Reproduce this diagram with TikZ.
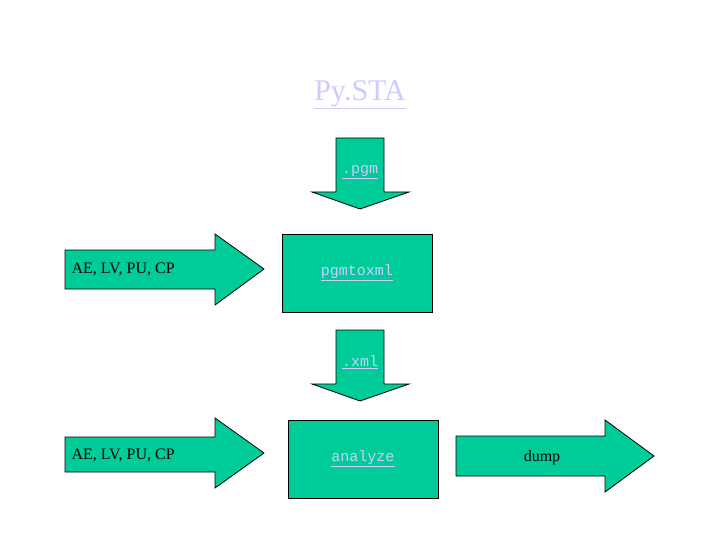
\documentclass[tikz,border=0pt]{standalone}
\usepackage{fontspec}
\setmainfont{Liberation Serif}
\setmonofont{Liberation Mono}
\usepackage{tikz}
\definecolor{boxgreen}{RGB}{0,204,153}
\definecolor{linkblue}{RGB}{204,204,255}
\tikzset{
 block/.style={draw=black, fill=boxgreen, line width=.8pt},
 link/.style={text=linkblue, font=\ttfamily\fontsize{15}{15}\selectfont},
 plain/.style={text=black, font=\fontsize{16}{16}\selectfont}
}
\newcommand{\ul}[1]{\underline{#1}}
\begin{document}
\begin{tikzpicture}[x=1pt,y=-1pt]
\useasboundingbox (0,0) rectangle (720,540);
%\draw[help lines] (0,0) grid (720,540);

 \node[text=linkblue, font=\fontsize{30}{30}\selectfont] (title) at (360,95) {\ul{Py.STA}};

 % .pgm arrow
 \draw[block] (336,138) -- (384,138) -- (384,192) -- (409,192) -- (360,209) -- (312,192) -- (336,192) -- cycle;
 \node[link] (pgm) at (360,172) {\ul{.pgm}};

 \node[block, minimum width=150pt, minimum height=78pt] (toxml) at (357,273) {};
 \node[link] at (toxml) {\ul{pgmtoxml}};

 \draw[block] (65,250) -- (215,250) -- (215,234) -- (264,269) -- (215,305) -- (215,289) -- (65,289) -- cycle;
 \node[plain, anchor=west] (in1) at (68,269) {AE, LV, PU, CP};

 % .xml arrow
 \draw[block] (336,330) -- (384,330) -- (384,384) -- (409,384) -- (360,401) -- (312,384) -- (336,384) -- cycle;
 \node[link] (xml) at (360,362) {\ul{.xml}};

 \node[block, minimum width=150pt, minimum height=78pt] (analyze) at (363,459) {};
 \node[link] at (analyze) {\ul{analyze}};

 \draw[block] (65,437) -- (215,437) -- (215,418) -- (264,453) -- (215,488) -- (215,472) -- (65,472) -- cycle;
 \node[plain, anchor=west] (in2) at (68,455) {AE, LV, PU, CP};

 \draw[block] (456,436) -- (605,436) -- (605,420) -- (654,456) -- (605,492) -- (605,476) -- (456,476) -- cycle;
 \node[plain] (dump) at (542,458) {dump};

\end{tikzpicture}
\end{document}
